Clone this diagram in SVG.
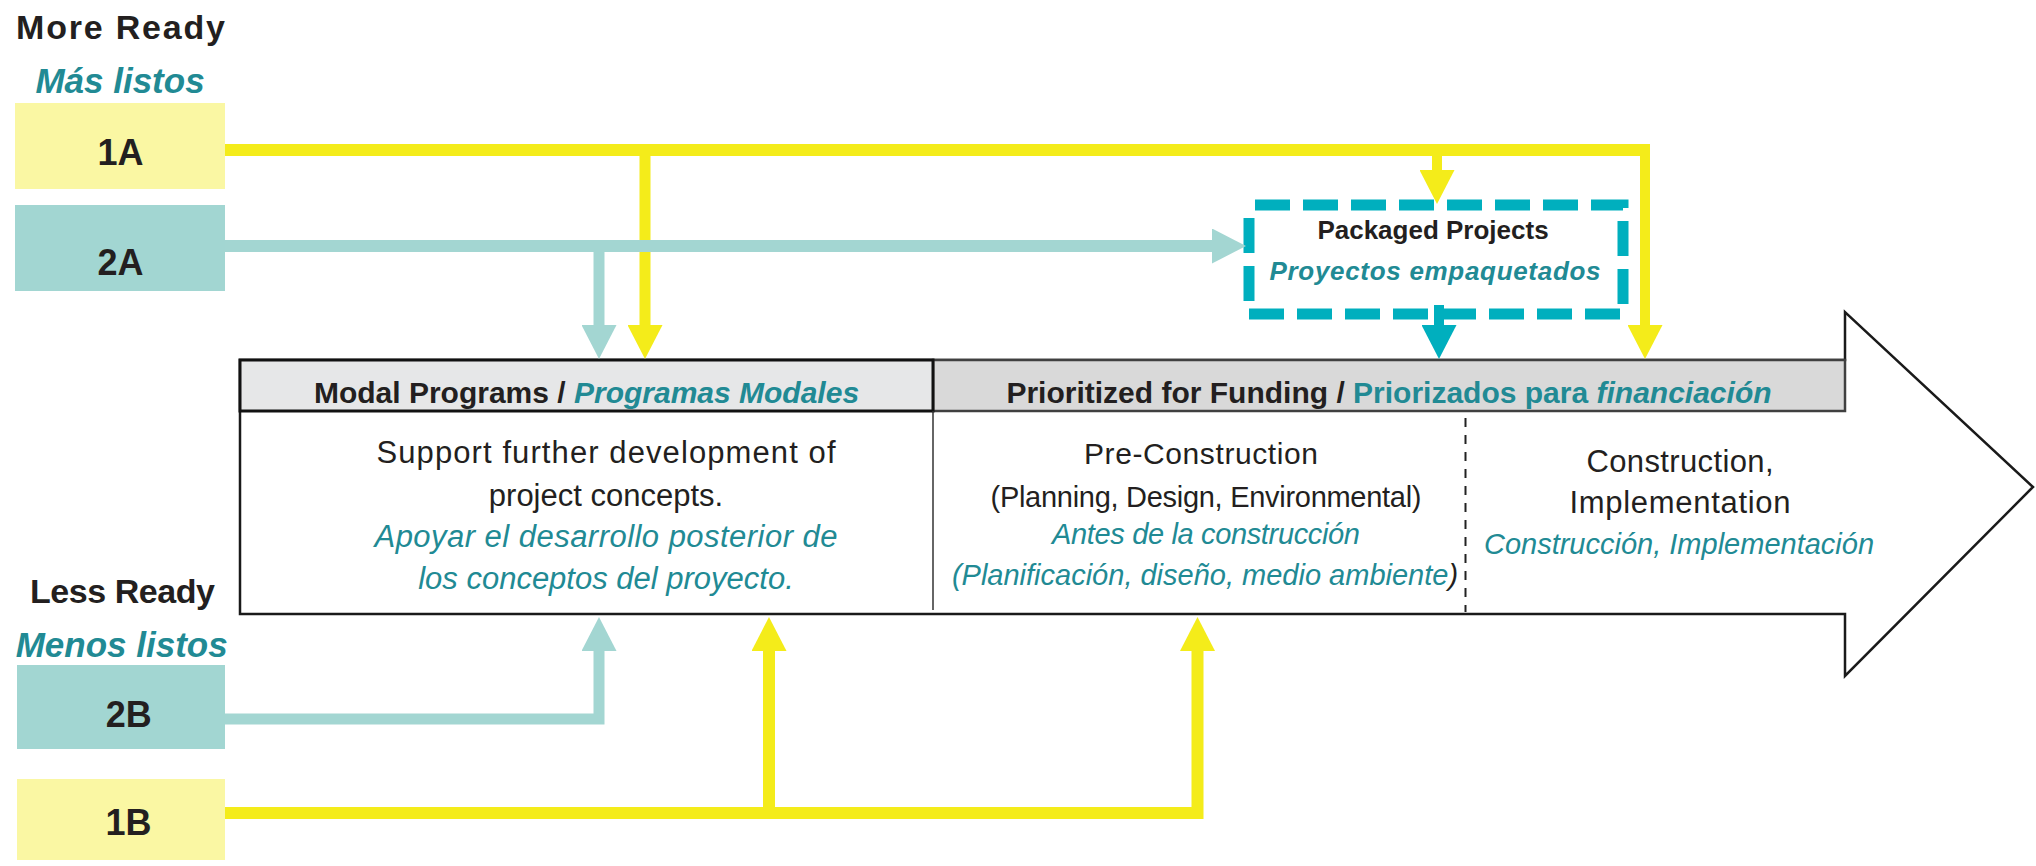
<svg xmlns="http://www.w3.org/2000/svg" width="2036" height="866" viewBox="0 0 2036 866">
<defs>
<style>
text{font-family:"Liberation Sans",Arial,sans-serif;fill:#231f20}
.b{font-weight:bold}
.i{font-style:italic}
.t{fill:#218a94}
.k{fill:#231f20}
.lbl{font-size:36px;font-weight:bold;text-anchor:middle}
.side{font-size:34px;font-weight:bold;text-anchor:middle}
.hdr{font-size:30px;font-weight:bold;text-anchor:middle}
.body{font-size:31px;text-anchor:middle}
.sm{font-size:29px;text-anchor:middle}
.y{fill:none;stroke:#f4ec1a}
.lt{fill:none;stroke:#a3d6d2}
.bt{fill:none;stroke:#00afbe}
</style>
<marker id="ay" viewBox="0 0 34 35" markerWidth="34" markerHeight="35" refX="1" refY="17.5" orient="auto" markerUnits="userSpaceOnUse"><path d="M0,0 L34,17.5 L0,35 Z" fill="#f4ec1a"/></marker>
<marker id="alt" viewBox="0 0 34 35" markerWidth="34" markerHeight="35" refX="1" refY="17.5" orient="auto" markerUnits="userSpaceOnUse"><path d="M0,0 L34,17.5 L0,35 Z" fill="#a3d6d2"/></marker>
<marker id="abt" viewBox="0 0 34 35" markerWidth="34" markerHeight="35" refX="1" refY="17.5" orient="auto" markerUnits="userSpaceOnUse"><path d="M0,0 L34,17.5 L0,35 Z" fill="#00afbe"/></marker>
</defs>
<rect width="2036" height="866" fill="#ffffff"/>

<g id="labels">
<text class="side" x="120.5" y="39" textLength="209">More Ready</text>
<text class="side i t" x="120" y="93" style="font-size:35px">Más listos</text>
<text class="side" x="122.5" y="603" textLength="185">Less Ready</text>
<text class="side i t" x="121.7" y="657" style="font-size:35px">Menos listos</text>
</g>

<g id="node-1A">
<rect x="15" y="103" width="210" height="86" fill="#faf7a3"/>
<text class="lbl" x="120.5" y="165">1A</text>
</g>
<g id="node-2A">
<rect x="15" y="205" width="210" height="86" fill="#a2d6d2"/>
<text class="lbl" x="120.5" y="275">2A</text>
</g>
<g id="node-2B">
<rect x="17" y="665" width="208" height="84" fill="#a2d6d2"/>
<text class="lbl" x="128.7" y="727">2B</text>
</g>
<g id="node-1B">
<rect x="17" y="779" width="208" height="81" fill="#faf7a3"/>
<text class="lbl" x="128.5" y="835">1B</text>
</g>

<g id="node-process">
<polygon points="240,360 1845,360 1845,312 2033,487 1845,676 1845,614 240,614" fill="#ffffff" stroke="#1a1a1a" stroke-width="2.5"/>
<rect x="933" y="360" width="912" height="51" fill="#d9d9d9" stroke="#404040" stroke-width="2.5"/>
<rect x="240" y="360" width="693" height="51" fill="#e6e7e8" stroke="#111111" stroke-width="3"/>
<line x1="933" y1="411" x2="933" y2="610" stroke="#333333" stroke-width="1.5"/>
<line x1="1465.5" y1="418" x2="1465.5" y2="612" stroke="#222222" stroke-width="2" stroke-dasharray="9 8"/>
<text class="hdr" x="586.5" y="403">Modal Programs / <tspan class="i t">Programas Modales</tspan></text>
<text class="hdr" x="1389" y="403">Prioritized for Funding / <tspan class="t">Priorizados para </tspan><tspan class="i t">financiación</tspan></text>
<text class="body" x="606" y="463" textLength="459">Support further development of</text>
<text class="body" x="606" y="505.5">project concepts.</text>
<text class="body i t" x="606" y="547" textLength="463">Apoyar el desarrollo posterior de</text>
<text class="body i t" x="606" y="588.5">los conceptos del proyecto.</text>
<text class="body" x="1201" y="464" style="font-size:30px" textLength="234">Pre-Construction</text>
<text class="sm" x="1206" y="506.5" textLength="431">(Planning, Design, Environmental)</text>
<text class="sm i t" x="1206" y="543.5" textLength="308">Antes de la construcción</text>
<text class="sm i t" x="1205" y="585">(Planificación, diseño, medio ambiente<tspan class="k">)</tspan></text>
<text class="body" x="1680" y="472" textLength="187">Construction,</text>
<text class="body" x="1680" y="513" textLength="221">Implementation</text>
<text class="sm i t" x="1679" y="553.5">Construcción, Implementación</text>
</g>

<g id="node-packaged">
<rect x="1249" y="205" width="374" height="109" fill="#ffffff" stroke="#00afbe" stroke-width="11" stroke-dasharray="35 13" stroke-dashoffset="42"/>
<text class="b" x="1433" y="239" style="font-size:26px;text-anchor:middle">Packaged Projects</text>
<text class="b i t" x="1435" y="280" style="font-size:26px;text-anchor:middle" textLength="331">Proyectos empaquetados</text>
</g>

<g id="connectors">
<path class="y" d="M225,150 H1650" stroke-width="12"/>
<path class="y" d="M1645,150 V326" stroke-width="10" marker-end="url(#ay)"/>
<path class="y" d="M1437,155 V171" stroke-width="10" marker-end="url(#ay)"/>
<path class="y" d="M645,155 V326" stroke-width="11" marker-end="url(#ay)"/>
<path class="lt" d="M225,246 H1213" stroke-width="12" marker-end="url(#alt)"/>
<path class="lt" d="M599,246 V326" stroke-width="11" marker-end="url(#alt)"/>
<path class="bt" d="M1439,305 V326" stroke-width="10" marker-end="url(#abt)"/>
<path class="lt" d="M225,719 H599 V650" stroke-width="11" marker-end="url(#alt)"/>
<path class="y" d="M225,813 H1197.5 V650" stroke-width="12" marker-end="url(#ay)"/>
<path class="y" d="M769,813 V650" stroke-width="12" marker-end="url(#ay)"/>
</g>
</svg>
